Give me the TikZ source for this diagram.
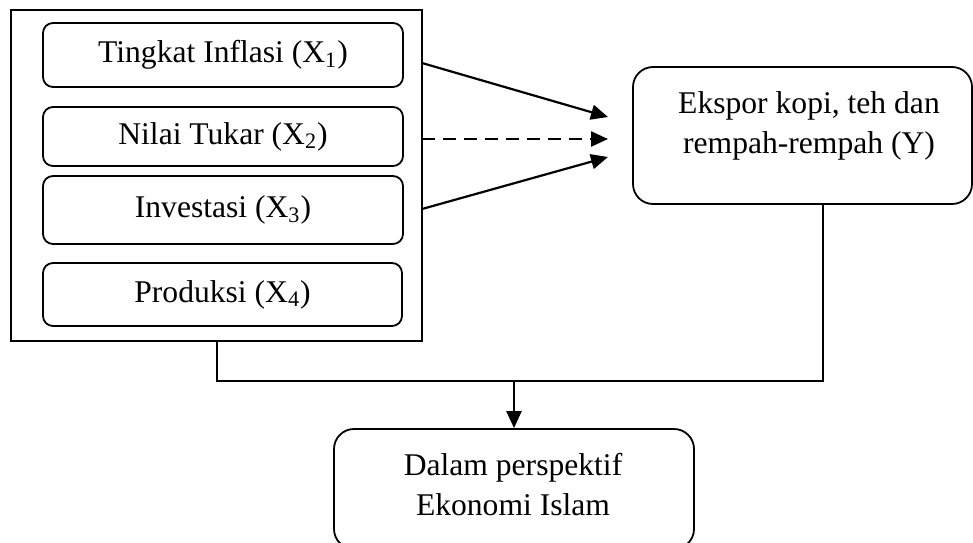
\documentclass[tikz,border=0pt]{standalone}
\usepackage{fontspec}
\setmainfont{Liberation Serif}
\usetikzlibrary{arrows.meta}
\tikzset{
	kotak/.style={draw, rounded corners=5pt, line width=0.9pt, align=center, inner sep=0pt},
	panah/.style={-{Triangle[length=8.5pt,width=7.5pt]}, line width=1.1pt},
	garis/.style={line width=1pt}
}
\begin{document}
\begin{tikzpicture}[x=0.5pt,y=-0.5pt,font=\fontsize{15.8}{20}\selectfont]
		\useasboundingbox (0,0) rectangle (973,542);
		\node[draw, line width=1pt, minimum width=205.5pt, minimum height=165.5pt, inner sep=0pt] (frame) at (216.5,175.5) {};
		\node[kotak, minimum width=180pt, minimum height=32pt] (inflasi) at (223,55) {Tingkat Inflasi (X\textsubscript{1})};
		\node[kotak, minimum width=180pt, minimum height=29.5pt] (kurs) at (223,136.5) {Nilai Tukar (X\textsubscript{2})};
		\node[kotak, minimum width=180pt, minimum height=34pt] (investasi) at (223,210) {Investasi (X\textsubscript{3})};
		\node[kotak, minimum width=179.5pt, minimum height=31.5pt] (produksi) at (222.5,294.5) {Produksi (X\textsubscript{4})};
		\node[kotak, rounded corners=10pt, minimum width=169.5pt, minimum height=68.5pt] (ekspor) at (802.5,135.5) {};
		\node[align=center] (teksY) at (809,126) {Ekspor kopi, teh dan\\rempah-rempah (Y)};
		\node[kotak, rounded corners=10pt, minimum width=180pt, minimum height=60pt] (islam) at (514,489) {};
		\node[align=center] (teksZ) at (513,485) {Dalam perspektif\\Ekonomi Islam};
		\coordinate (a1) at (422,63);
		\coordinate (a2) at (422,139);
		\coordinate (a3) at (422,209);
		\coordinate (t1) at (608,117);
		\coordinate (t2) at (608,139);
		\coordinate (t3) at (608,157);
		\draw[panah] (a1) -- (t1);
		\draw[panah, line width=1.2pt, dash pattern=on 6.5pt off 4pt] (a2) -- (t2);
		\draw[panah] (a3) -- (t3);
		\coordinate (turun) at (823,204);
		\coordinate (simpang) at (514,381);
		\draw[garis] (frame.south) |- (simpang) -| (turun);
		\draw[panah] (simpang) -- (islam.north);
	\end{tikzpicture}
\end{document}
